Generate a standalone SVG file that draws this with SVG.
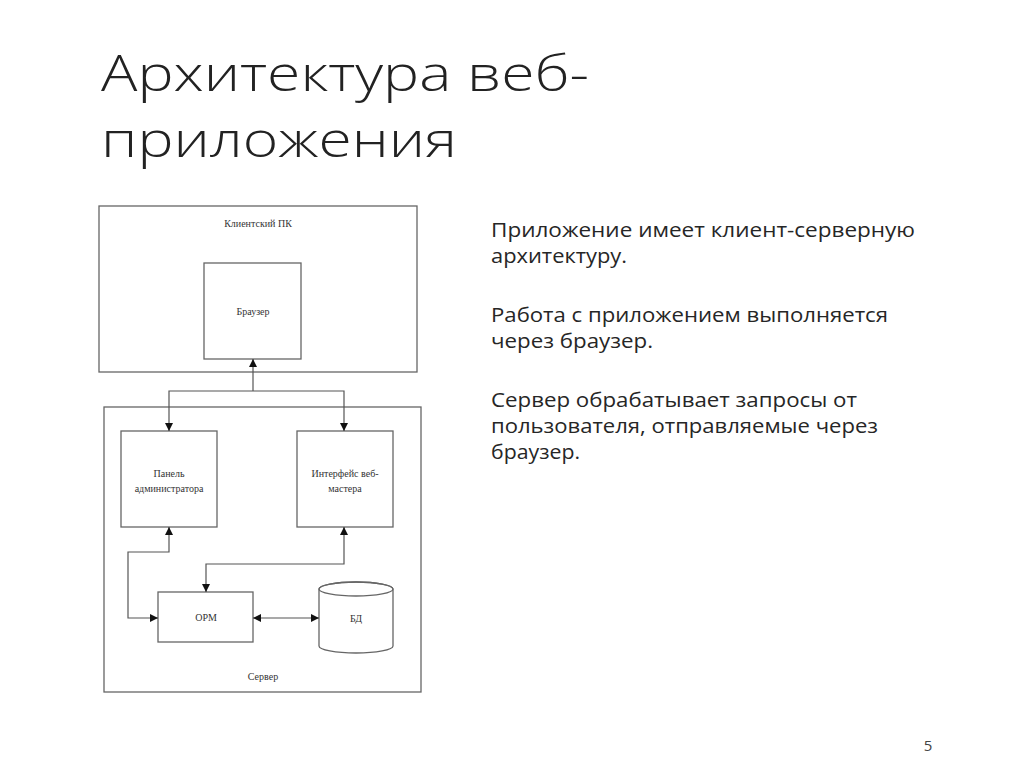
<svg xmlns="http://www.w3.org/2000/svg" width="1024" height="767" viewBox="0 0 1024 767">
<defs>
<marker id="ah" viewBox="0 0 10 10" refX="10" refY="5" markerWidth="8" markerHeight="8" markerUnits="userSpaceOnUse" orient="auto-start-reverse">
<path d="M0,0 L10,5 L0,10 z" fill="#111"/>
</marker>
<style>
.box{fill:#fff;stroke:#666;stroke-width:1.3}
.ln{fill:none;stroke:#555;stroke-width:1.2}
.dt{font-family:"Liberation Serif","DejaVu Serif",serif;font-size:10px;fill:#333;text-anchor:middle}
.tt{font-family:"Open Sans","Noto Sans",sans-serif;font-weight:300;font-size:49px;fill:#222}
.bt{font-family:"Open Sans","Noto Sans",sans-serif;font-size:20.5px;fill:#262626}
</style>
</defs>
<rect width="1024" height="767" fill="#fff"/>
<g id="title">
<text class="tt" x="101" y="91" textLength="488" lengthAdjust="spacingAndGlyphs">Архитектура веб-</text>
<text class="tt" x="101" y="157" textLength="356" lengthAdjust="spacingAndGlyphs">приложения</text>
</g>
<g id="client-pc">
<rect class="box" x="99" y="206" width="318" height="166"/>
<text class="dt" x="258" y="227">Клиентский ПК</text>
</g>
<g id="browser">
<rect class="box" x="204" y="263" width="97" height="96"/>
<text class="dt" x="253" y="315">Браузер</text>
</g>
<g id="server">
<rect class="box" x="104" y="407" width="317" height="285"/>
<text class="dt" x="263" y="680">Сервер</text>
</g>
<g id="admin-panel">
<rect class="box" x="121" y="431" width="96" height="96"/>
<text class="dt" x="169" y="477">Панель</text>
<text class="dt" x="169" y="492">администратора</text>
</g>
<g id="webmaster">
<rect class="box" x="297" y="431" width="96" height="96"/>
<text class="dt" x="345" y="477">Интерфейс веб-</text>
<text class="dt" x="345" y="492">мастера</text>
</g>
<g id="orm">
<rect class="box" x="158" y="592" width="95" height="50"/>
<text class="dt" x="206" y="621">ОРМ</text>
</g>
<g id="db">
<path class="box" d="M319,589 L319,646 A37,7 0 0 0 393,646 L393,589 A37,7 0 0 0 319,589 z"/>
<ellipse cx="356" cy="589" rx="37" ry="7" fill="none" stroke="#666" stroke-width="1.3"/>
<text class="dt" x="356" y="622">БД</text>
</g>
<g id="connectors">
<path class="ln" d="M169,431 L169,391 L344,391 L344,431" marker-start="url(#ah)" marker-end="url(#ah)"/>
<path class="ln" d="M253,391 L253,359" marker-end="url(#ah)"/>
<path class="ln" d="M169,527 L169,552 L128,552 L128,618 L158,618" marker-start="url(#ah)" marker-end="url(#ah)"/>
<path class="ln" d="M344,527 L344,564 L206,564 L206,592" marker-start="url(#ah)" marker-end="url(#ah)"/>
<path class="ln" d="M253,618 L319,618" marker-start="url(#ah)" marker-end="url(#ah)"/>
</g>
<g id="body-text">
<text class="bt" x="491" y="237" textLength="424" lengthAdjust="spacingAndGlyphs">Приложение имеет клиент-серверную</text>
<text class="bt" x="491" y="263" textLength="136" lengthAdjust="spacingAndGlyphs">архитектуру.</text>
<text class="bt" x="491" y="322" textLength="397" lengthAdjust="spacingAndGlyphs">Работа с приложением выполняется</text>
<text class="bt" x="491" y="348" textLength="162" lengthAdjust="spacingAndGlyphs">через браузер.</text>
<text class="bt" x="491" y="407" textLength="366" lengthAdjust="spacingAndGlyphs">Сервер обрабатывает запросы от</text>
<text class="bt" x="491" y="433" textLength="387" lengthAdjust="spacingAndGlyphs">пользователя, отправляемые через</text>
<text class="bt" x="491" y="459" textLength="89" lengthAdjust="spacingAndGlyphs">браузер.</text>
</g>
<g id="page-number">
<text x="928" y="751" font-family="Open Sans, sans-serif" font-size="15" fill="#444" text-anchor="middle">5</text>
</g>
</svg>
